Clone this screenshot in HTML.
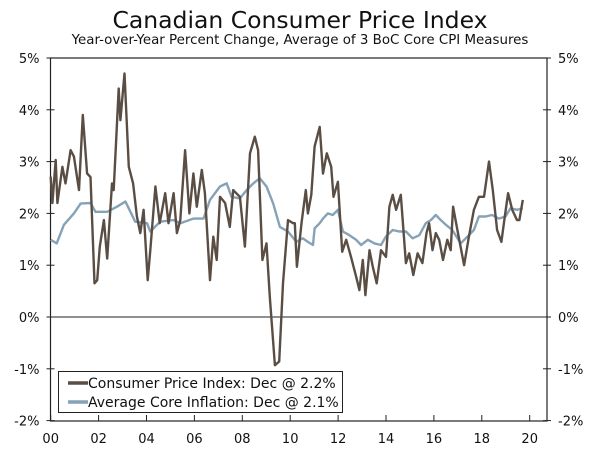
<!DOCTYPE html>
<html><head><meta charset="utf-8"><style>
body{margin:0;background:#fff;}
svg text{font-family:"DejaVu Sans","Liberation Sans",sans-serif;fill:#111;}
</style></head><body>
<svg id="c" width="600" height="448" xmlns="http://www.w3.org/2000/svg">
<text x="300" y="28" text-anchor="middle" font-size="23.5">Canadian Consumer Price Index</text>
<text x="300" y="44" text-anchor="middle" font-size="13.4">Year-over-Year Percent Change, Average of 3 BoC Core CPI Measures</text>
<g id="axes"></g>
<g id="series"></g>
<g>
<rect x="58.5" y="371.5" width="284" height="41" fill="#fff" stroke="#222" stroke-width="1"/>
<line x1="68" y1="383" x2="88" y2="383" stroke="#5a4e44" stroke-width="3.5"/>
<text x="88" y="388" font-size="14">Consumer Price Index: Dec @ 2.2%</text>
<line x1="68" y1="402" x2="88" y2="402" stroke="#86a2b6" stroke-width="3.5"/>
<text x="88" y="407" font-size="14">Average Core Inflation: Dec @ 2.1%</text>
</g>
</svg>
<script>
const yTicks=[5,4,3,2,1,0,-1,-2];
const yTickLabels=["5%","4%","3%","2%","1%","0%","-1%","-2%"];
const xTicks=[2000,2002,2004,2006,2008,2010,2012,2014,2016,2018,2020];
const xTickLabels=["00","02","04","06","08","10","12","14","16","18","20"];
const cpiYears=[2000.0,2000.07,2000.21,2000.28,2000.49,2000.62,2000.83,2000.97,2001.18,2001.34,2001.52,2001.66,2001.83,2001.94,2002.05,2002.22,2002.36,2002.56,2002.63,2002.84,2002.91,2003.08,2003.26,2003.44,2003.6,2003.74,2003.88,2004.05,2004.16,2004.37,2004.55,2004.78,2004.92,2005.13,2005.27,2005.41,2005.61,2005.79,2005.96,2006.1,2006.31,2006.44,2006.65,2006.79,2006.93,2007.07,2007.28,2007.48,2007.62,2007.9,2008.11,2008.32,2008.52,2008.66,2008.84,2009.01,2009.15,2009.36,2009.54,2009.7,2009.91,2010.12,2010.19,2010.28,2010.47,2010.65,2010.74,2010.88,2011.02,2011.23,2011.37,2011.53,2011.71,2011.81,2011.99,2012.17,2012.34,2012.54,2012.75,2012.89,2013.03,2013.14,2013.31,2013.45,2013.61,2013.79,2014.0,2014.14,2014.28,2014.42,2014.62,2014.83,2014.97,2015.14,2015.32,2015.52,2015.69,2015.8,2015.94,2016.08,2016.22,2016.38,2016.56,2016.7,2016.8,2016.98,2017.26,2017.46,2017.67,2017.88,2018.09,2018.3,2018.46,2018.64,2018.82,2018.96,2019.1,2019.27,2019.47,2019.57,2019.71];
const cpiValues=[2.71,2.2,3.03,2.2,2.9,2.58,3.22,3.1,2.45,3.9,2.77,2.7,0.65,0.71,1.36,1.87,1.13,2.58,2.45,4.41,3.8,4.7,2.9,2.58,1.94,1.62,2.07,0.71,1.29,2.52,1.81,2.39,1.81,2.39,1.62,1.87,3.22,2.0,2.77,2.13,2.84,2.39,0.71,1.55,1.1,2.32,2.2,1.74,2.45,2.32,1.36,3.16,3.48,3.22,1.1,1.42,0.39,-0.93,-0.86,0.65,1.87,1.81,1.81,0.97,1.81,2.45,2.0,2.36,3.29,3.67,2.77,3.16,2.9,2.32,2.61,1.26,1.49,1.16,0.78,0.52,1.1,0.42,1.29,0.97,0.65,1.29,1.16,2.13,2.36,2.07,2.36,1.04,1.23,0.81,1.23,1.04,1.62,1.81,1.29,1.62,1.49,1.1,1.49,1.29,2.13,1.68,1.0,1.55,2.07,2.32,2.32,3.0,2.45,1.68,1.45,1.94,2.39,2.07,1.87,1.87,2.26];
const coreYears=[2000.0,2000.25,2000.55,2000.97,2001.25,2001.66,2001.87,2002.36,2002.77,2003.12,2003.53,2004.02,2004.16,2004.57,2005.13,2005.41,2005.96,2006.38,2006.65,2007.07,2007.35,2007.55,2007.9,2008.18,2008.46,2008.73,2009.01,2009.29,2009.57,2009.91,2010.26,2010.4,2010.53,2010.74,2010.95,2011.02,2011.23,2011.37,2011.57,2011.78,2011.99,2012.2,2012.47,2012.75,2012.96,2013.24,2013.52,2013.79,2013.99,2014.28,2014.55,2014.83,2015.11,2015.39,2015.66,2015.87,2016.08,2016.29,2016.5,2016.77,2017.12,2017.4,2017.67,2017.88,2018.16,2018.43,2018.71,2018.99,2019.2,2019.47,2019.71];
const coreValues=[1.49,1.42,1.78,2.0,2.19,2.2,2.03,2.03,2.13,2.23,1.84,1.81,1.65,1.84,1.87,1.81,1.9,1.9,2.26,2.52,2.58,2.32,2.29,2.45,2.58,2.68,2.52,2.19,1.74,1.65,1.45,1.49,1.52,1.45,1.39,1.71,1.81,1.9,2.0,1.97,2.07,1.65,1.58,1.49,1.39,1.49,1.42,1.39,1.55,1.68,1.65,1.65,1.52,1.58,1.81,1.87,1.97,1.87,1.78,1.68,1.42,1.55,1.68,1.94,1.94,1.97,1.9,1.94,2.1,2.07,2.1];
const X0=50.5,X1=547,Y0=58,Y1=421;
const xs=y=>50.7+(y-2000)*23.95;
const ys=v=>317-v*51.8;
const NS="http://www.w3.org/2000/svg";
const axes=document.getElementById('axes'),series=document.getElementById('series');
function mk(tag,attrs,parent){const e=document.createElementNS(NS,tag);for(const k in attrs)e.setAttribute(k,attrs[k]);parent.appendChild(e);return e;}
let fr=mk('rect',{x:X0,y:Y0,width:X1-X0,height:Y1-Y0,fill:'none',stroke:'#222','stroke-width':1.2},axes);


let zl=mk('line',{x1:X0,x2:X1,y1:ys(0),y2:ys(0),stroke:'#222','stroke-width':1},axes);


yTicks.forEach((v,i)=>{
  const y=ys(v);
  mk('line',{x1:X0-4,x2:X0+4,y1:y,y2:y,stroke:'#222'},axes);
  mk('line',{x1:X1-4,x2:X1+4,y1:y,y2:y,stroke:'#222'},axes);
  const t=mk('text',{x:X0-11,y:y+5,'text-anchor':'end','font-size':13},axes);t.textContent=yTickLabels[i];
  
  
  const t2=mk('text',{x:X1+11,y:y+5,'text-anchor':'start','font-size':13},axes);t2.textContent=yTickLabels[i];
  
  
});
xTicks.forEach((yr,i)=>{
  const x=xs(yr);
  mk('line',{x1:x,x2:x,y1:Y1-6,y2:Y1,stroke:'#222'},axes);
  const t=mk('text',{x:x,y:443,'text-anchor':'middle','font-size':13},axes);t.textContent=xTickLabels[i];
  
  
});
function line(xa,va,col,name){
  const d=xa.map((x,i)=>(i?'L':'M')+xs(x).toFixed(1)+','+ys(va[i]).toFixed(1)).join('');
  const p=mk('path',{d:d,fill:'none',stroke:col,'stroke-width':2.4,'stroke-linejoin':'round'},series);
  
  
}
line(coreYears,coreValues,'#86a2b6','core-inflation-line');
line(cpiYears,cpiValues,'#5a4e44','cpi-line');
</script>
</body></html>
